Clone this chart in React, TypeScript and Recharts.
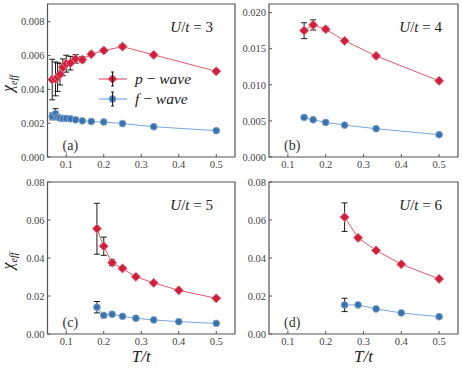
import React from 'react';
import {
  ScatterChart,
  Scatter,
  XAxis,
  YAxis,
  ErrorBar,
  ReferenceArea,
  Label,
  Legend,
} from 'recharts';

// T/t values per panel
const tempsU3 = [0.0625, 0.0714, 0.0769, 0.0833, 0.0909, 0.1, 0.1111, 0.125, 0.1429, 0.1667, 0.2, 0.25, 0.3333, 0.5];
const pWaveU3 = [0.00458, 0.00462, 0.00472, 0.0049, 0.0053, 0.00552, 0.00555, 0.0058, 0.00576, 0.00608, 0.0063, 0.00653, 0.00604, 0.00507];
const pErrU3 = [0.0012, 0.001, 0.00084, 0.00064, 0.0005, 0.0005, 0.0004, 0.00025, 0.00018, 0.00012, 0.00012, 0.00012, 0.0001, 0.0001];
const fWaveU3 = [0.0024, 0.00256, 0.00236, 0.0023, 0.00228, 0.00228, 0.00226, 0.0022, 0.00214, 0.0021, 0.00207, 0.00198, 0.00179, 0.00156];
const fErrU3 = [0.0002, 0.0003, 0.00015, 0.0001, 0.00008, 0.00008, 0.00008, 0.00007, 0.00006, 0.00006, 0.00006, 0.00006, 0.00006, 0.00006];

const tempsU4 = [0.1429, 0.1667, 0.2, 0.25, 0.3333, 0.5];
const pWaveU4 = [0.0175, 0.0183, 0.0177, 0.0161, 0.014, 0.01055];
const pErrU4 = [0.0011, 0.0007, 0.0003, 0.0002, 0.0002, 0.0002];
const fWaveU4 = [0.00548, 0.00516, 0.00479, 0.00442, 0.00392, 0.00309];
const fErrU4 = [0.00012, 0.0001, 0.0001, 0.0001, 0.0001, 0.0001];

const tempsU5 = [0.1818, 0.2, 0.2222, 0.25, 0.2857, 0.3333, 0.4, 0.5];
const pWaveU5 = [0.0554, 0.0462, 0.0375, 0.0345, 0.0301, 0.0269, 0.023, 0.0188];
const pErrU5 = [0.0134, 0.0048, 0.0015, 0.001, 0.0007, 0.0006, 0.0005, 0.0005];
const fWaveU5 = [0.0141, 0.0098, 0.0104, 0.0093, 0.0083, 0.0074, 0.0065, 0.0056];
const fErrU5 = [0.003, 0.0006, 0.0008, 0.0004, 0.0003, 0.0003, 0.0003, 0.0003];

const tempsU6 = [0.25, 0.2857, 0.3333, 0.4, 0.5];
const pWaveU6 = [0.0615, 0.0506, 0.044, 0.0367, 0.029];
const pErrU6 = [0.0075, 0.001, 0.0007, 0.0006, 0.0005];
const fWaveU6 = [0.0153, 0.0153, 0.0132, 0.0111, 0.0091];
const fErrU6 = [0.0035, 0.0008, 0.0004, 0.0003, 0.0003];

const xTicks = [0.1, 0.2, 0.3, 0.4, 0.5];
const yTicksU3 = [0, 0.002, 0.004, 0.006, 0.008];
const yTicksU4 = [0, 0.005, 0.01, 0.015, 0.02];
const yTicksBig = [0, 0.02, 0.04, 0.06, 0.08];
const seriesNames = ['p', 'f'];

const SERIF = '"Liberation Serif", "Times New Roman", serif';
const RED = '#cf1f3c';
const RED_LINE = '#e35a6c';
const RED_EDGE = '#e8788a';
const BLUE = '#3b72aa';
const BLUE_LINE = '#7aa6d6';
const BLUE_EDGE = '#7fa8d4';
const FRAME = '#555';
const ERR = '#1a1a1a';

const zip = (xs: number[], ys: number[], es: number[]) =>
  xs.map((x, i) => ({ x, y: ys[i], err: es[i] }));

const Diamond = (props: any) => {
  const { cx, cy } = props;
  const r = 4.6;
  return (
    <path
      d={`M${cx},${cy - r}L${cx + r},${cy}L${cx},${cy + r}L${cx - r},${cy}Z`}
      fill={RED}
      stroke={RED_EDGE}
      strokeWidth={1}
    />
  );
};

const Dot = (props: any) => {
  const { cx, cy } = props;
  return <circle cx={cx} cy={cy} r={3.4} fill={BLUE} stroke={BLUE_EDGE} strokeWidth={1} />;
};

const NoShape = () => <g />;

const LegendBox = () => (
  <div style={{ fontFamily: SERIF, fontSize: 15.5, color: '#222', width: 130 }}>
    {seriesNames.map((name, i) => (
      <div key={name} style={{ display: 'flex', alignItems: 'center', height: 20 }}>
        <svg width={28} height={20} style={{ flexShrink: 0, display: 'block' }}>
          <line x1={0} x2={28} y1={10} y2={10} stroke={i === 0 ? RED_LINE : BLUE_LINE} strokeWidth={1.2} />
          {i === 0 ? <Diamond cx={13.5} cy={10} /> : <Dot cx={13.5} cy={10} />}
          <line x1={13.5} x2={13.5} y1={3} y2={17} stroke={ERR} strokeWidth={1} />
          <line x1={12} x2={15} y1={3} y2={3} stroke={ERR} strokeWidth={1} />
          <line x1={12} x2={15} y1={17} y2={17} stroke={ERR} strokeWidth={1} />
        </svg>
        <span style={{ whiteSpace: 'nowrap', marginLeft: 8 }}>
          <i>{name}</i> − <i>wave</i>
        </span>
      </div>
    ))}
  </div>
);

interface PanelProps {
  left: number;
  top: number;
  width: number;
  height: number;
  yWidth: number;
  xHeight: number;
  temps: number[];
  pWave: number[];
  pErr: number[];
  fWave: number[];
  fErr: number[];
  yMax: number;
  yTicks: number[];
  digits: number;
  u: number;
  tag: string;
  uInset: number;
  yLabel?: boolean;
  xLabel?: boolean;
  legend?: boolean;
}

const Panel: React.FC<PanelProps> = (p) => {
  const pData = zip(p.temps, p.pWave, p.pErr);
  const fData = zip(p.temps, p.fWave, p.fErr);
  const tickStyle = { fontSize: 10.5, fill: '#444', fontFamily: SERIF };

  return (
    <div style={{ position: 'absolute', left: p.left, top: p.top }}>
      <ScatterChart
        width={p.width}
        height={p.height}
        margin={{ top: 4, right: 5, left: 0, bottom: 0 }}
      >
        <XAxis
          type="number"
          dataKey="x"
          domain={[0.05, 0.55]}
          ticks={xTicks}
          interval={0}
          allowDataOverflow
          height={p.xHeight}
          axisLine={false}
          tickSize={-3}
          tickMargin={7}
          tickLine={{ stroke: FRAME }}
          tick={tickStyle}
          tickFormatter={(v: number) => v.toFixed(1)}
        >
          {p.xLabel && (
            <Label
              content={(props: any) => {
                const vb = props.viewBox;
                return (
                  <text
                    x={vb.x + vb.width / 2}
                    y={vb.y + 28}
                    textAnchor="middle"
                    fontFamily={SERIF}
                    fontStyle="italic"
                    fontSize={17}
                    fill="#222"
                  >
                    T/t
                  </text>
                );
              }}
            />
          )}
        </XAxis>
        <YAxis
          type="number"
          dataKey="y"
          domain={[0, p.yMax]}
          ticks={p.yTicks}
          interval={0}
          allowDataOverflow
          width={p.yWidth}
          axisLine={false}
          tickSize={-3}
          tickMargin={6}
          tickLine={{ stroke: FRAME }}
          tick={tickStyle}
          tickFormatter={(v: number) => v.toFixed(p.digits)}
        >
          {p.yLabel && (
            <Label
              content={(props: any) => {
                const vb = props.viewBox;
                const cy = vb.y + vb.height / 2 + 3;
                return (
                  <text
                    x={13}
                    y={cy}
                    transform={`rotate(-90 13 ${cy})`}
                    textAnchor="middle"
                    fontFamily={SERIF}
                    fontStyle="italic"
                    fontSize={16}
                    fill="#222"
                  >
                    <tspan>χ</tspan>
                    <tspan dy={4} fontSize={10}>eff</tspan>
                  </text>
                );
              }}
            />
          )}
        </YAxis>
        <ReferenceArea
          x1={0.05}
          x2={0.55}
          y1={0}
          y2={p.yMax}
          fill="none"
          fillOpacity={0}
          stroke={FRAME}
          strokeWidth={1.2}
        >
          <Label
            content={(props: any) => {
              const vb = props.viewBox;
              return (
                <text
                  x={vb.x + vb.width - p.uInset}
                  y={vb.y + 27.5}
                  textAnchor="end"
                  fontFamily={SERIF}
                  fontSize={15}
                  fill="#222"
                >
                  <tspan fontStyle="italic">U</tspan>
                  <tspan>/</tspan>
                  <tspan fontStyle="italic">t</tspan>
                  <tspan> = {p.u}</tspan>
                </text>
              );
            }}
          />
          <Label
            content={(props: any) => {
              const vb = props.viewBox;
              return (
                <text
                  x={vb.x + 15}
                  y={vb.y + vb.height - 7.5}
                  fontFamily={SERIF}
                  fontSize={14}
                  fill="#333"
                >
                  {p.tag}
                </text>
              );
            }}
          />
        </ReferenceArea>
        <Scatter
          name="p-wave"
          data={pData}
          shape={Diamond}
          line={{ stroke: RED_LINE, strokeWidth: 1 }}
          isAnimationActive={false}
        />
        <Scatter
          name="f-wave"
          data={fData}
          shape={Dot}
          line={{ stroke: BLUE_LINE, strokeWidth: 1 }}
          isAnimationActive={false}
        />
        <Scatter data={pData} shape={NoShape} isAnimationActive={false}>
          <ErrorBar dataKey="err" direction="y" width={3} stroke={ERR} strokeWidth={1} isAnimationActive={false} />
        </Scatter>
        <Scatter data={fData} shape={NoShape} isAnimationActive={false}>
          <ErrorBar dataKey="err" direction="y" width={3} stroke={ERR} strokeWidth={1} isAnimationActive={false} />
        </Scatter>
        {p.legend && (
          <Legend
            layout="vertical"
            align="center"
            verticalAlign="middle"
            content={() => <LegendBox />}
            wrapperStyle={{ left: 99, top: 69, width: 130, height: 40 }}
          />
        )}
      </ScatterChart>
    </div>
  );
};

export default function App() {
  return (
    <div style={{ position: 'absolute', left: 0, top: 0, width: 463, height: 370, background: '#fff' }}>
      <Panel
        left={0} top={0} width={240} height={182} yWidth={47.5} xHeight={25}
        temps={tempsU3} pWave={pWaveU3} pErr={pErrU3} fWave={fWaveU3} fErr={fErrU3}
        yMax={0.00905} yTicks={yTicksU3} digits={3} u={3} tag="(a)" uInset={22}
        yLabel legend
      />
      <Panel
        left={230} top={0} width={233} height={182} yWidth={39} xHeight={25}
        temps={tempsU4} pWave={pWaveU4} pErr={pErrU4} fWave={fWaveU4} fErr={fErrU4}
        yMax={0.0212} yTicks={yTicksU4} digits={3} u={4} tag="(b)" uInset={16}
      />
      <Panel
        left={0} top={178} width={240} height={192} yWidth={47.5} xHeight={36}
        temps={tempsU5} pWave={pWaveU5} pErr={pErrU5} fWave={fWaveU5} fErr={fErrU5}
        yMax={0.08} yTicks={yTicksBig} digits={2} u={5} tag="(c)" uInset={22}
        yLabel xLabel
      />
      <Panel
        left={230} top={178} width={233} height={192} yWidth={39} xHeight={36}
        temps={tempsU6} pWave={pWaveU6} pErr={pErrU6} fWave={fWaveU6} fErr={fErrU6}
        yMax={0.08} yTicks={yTicksBig} digits={2} u={6} tag="(d)" uInset={16}
        xLabel
      />
    </div>
  );
}
